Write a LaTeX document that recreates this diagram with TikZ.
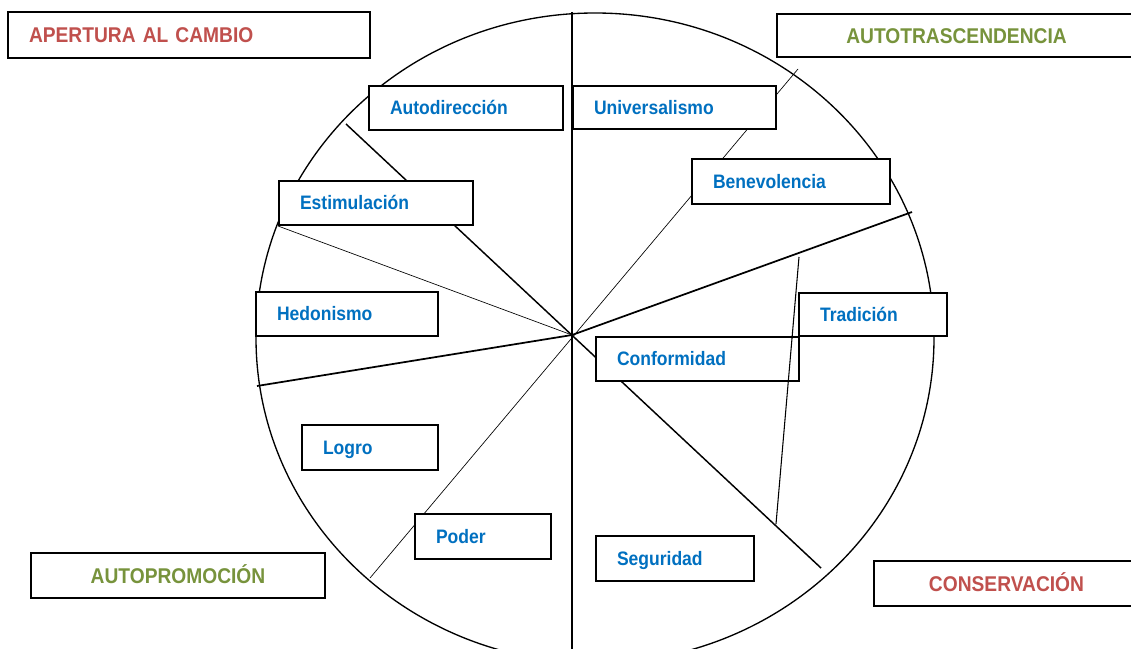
\documentclass[tikz,border=0pt]{standalone}
\usepackage{fontspec}
\setmainfont{Liberation Sans}[FakeStretch=0.9]
\usepackage{tikz}
\definecolor{valblue}{HTML}{0070C0}
\definecolor{grpred}{HTML}{C0504D}
\definecolor{grpgreen}{HTML}{77933C}
\tikzset{
	val/.style={draw, line width=1.5pt, fill=white, anchor=north west, text=valblue,
		font=\bfseries\fontsize{14.6}{16}\selectfont, inner xsep=15.75pt, inner ysep=0pt,
		minimum height=33pt, text height=10.45pt, text depth=0pt, align=left},
	grp/.style={val, font=\bfseries\fontsize{16}{18}\selectfont, text height=11.46pt, align=center}
}

\begin{document}
\begin{tikzpicture}[x=0.75pt, y=-0.75pt]

		\useasboundingbox (0,0) rectangle (1131,649);
		\clip (0,0) rectangle (1131,649);

		\coordinate (O) at (572,335);
		\coordinate (a1) at (572,12);
		\coordinate (a2) at (572,660);
		\coordinate (b1) at (257,386);
		\coordinate (b2) at (912,212);
		\coordinate (c1) at (346,124);
		\coordinate (c2) at (821,568);
		\coordinate (d1) at (370,578);
		\coordinate (d2) at (798,69);
		\coordinate (t1) at (799,257);
		\coordinate (t2) at (776,524);

		\draw [line width=1pt] (595,338) ellipse [x radius=254.25pt, y radius=243.75pt];
		\draw [line width=1.2pt] (a1)--(a2);
		\draw [line width=1.3pt] (O)--(b1);
		\draw [line width=1.3pt] (O)--(b2);
		\draw [line width=1.1pt] (c1)--(c2);
		\draw [line width=0.5pt] (d1)--(d2);

		\node[grp, text=grpred, align=left, text width=240pt, minimum height=34.5pt] (AC) at (7,11) {APERTURA AL CAMBIO};
		\node[grp, text=grpgreen, text width=237.75pt, minimum height=32.25pt] (AT) at (776,13) {AUTOTRASCENDENCIA};
		\node[grp, text=grpgreen, text width=189pt, minimum height=33.75pt] (AP) at (30,552) {AUTOPROMOCIÓN};
		\node[grp, text=grpred, text width=167.25pt, minimum height=33.75pt] (CS) at (873,560) {CONSERVACIÓN};

		\node[val, text width=114pt] (Ad) at (368,85) {Autodirección};
		\node[val, text width=120.75pt, minimum height=32.25pt] (Un) at (572,85) {Universalismo};
		\node[val, text width=117pt, minimum height=33.75pt] (Be) at (691,158) {Benevolencia};
		\node[val, text width=114pt] (Es) at (278,180) {Estimulación};
		\node[val, text width=105pt] (He) at (255,291) {Hedonismo};
		\node[val, text width=79.5pt, minimum height=32.25pt] (Tr) at (798,292) {Tradición};
		\node[val, text width=120.75pt] (Co) at (595,336) {Conformidad};
		\node[val, text width=70.5pt, minimum height=33.75pt] (Lo) at (301,424) {Logro};
		\node[val, text width=70.5pt, minimum height=33.75pt] (Po) at (414,513) {Poder};
		\node[val, text width=87pt, minimum height=33.75pt] (Se) at (595,535) {Seguridad};

		\draw [line width=0.5pt] (O)--(Es.south west);
		\draw [line width=0.8pt] (t1)--(t2);

\end{tikzpicture}
\end{document}
